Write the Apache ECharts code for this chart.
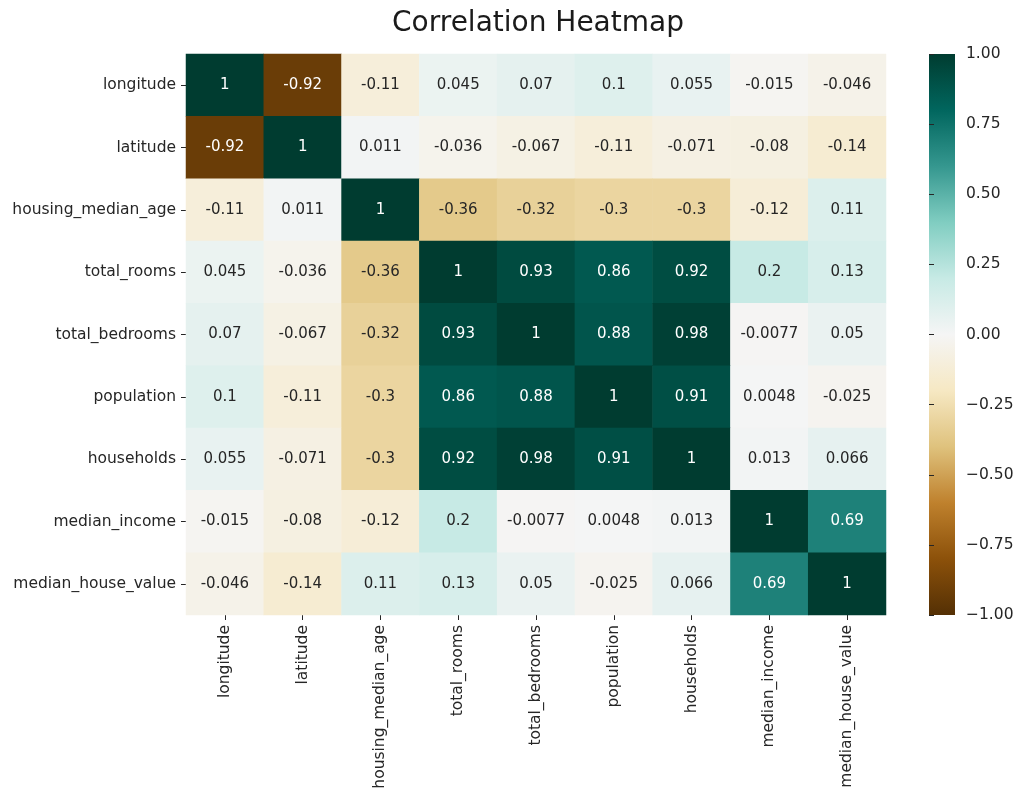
<!DOCTYPE html>
<html>
<head>
<meta charset="utf-8">
<script src="https://cdn.jsdelivr.net/npm/echarts@6/dist/echarts.min.js"></script>
<style>
  html, body { margin: 0; padding: 0; background: #ffffff; }
  #chart { width: 1018px; height: 809px; }
</style>
</head>
<body>
<div id="chart"></div>
<script>
// Feature names (rows top to bottom, columns left to right)
const features = [
  'longitude', 'latitude', 'housing_median_age', 'total_rooms',
  'total_bedrooms', 'population', 'households', 'median_income',
  'median_house_value'
];

// Pearson correlation matrix, one row per feature
const rowLongitude        = [1, -0.92, -0.11, 0.045, 0.07, 0.1, 0.055, -0.015, -0.046];
const rowLatitude         = [-0.92, 1, 0.011, -0.036, -0.067, -0.11, -0.071, -0.08, -0.14];
const rowHousingMedianAge = [-0.11, 0.011, 1, -0.36, -0.32, -0.3, -0.3, -0.12, 0.11];
const rowTotalRooms       = [0.045, -0.036, -0.36, 1, 0.93, 0.86, 0.92, 0.2, 0.13];
const rowTotalBedrooms    = [0.07, -0.067, -0.32, 0.93, 1, 0.88, 0.98, -0.0077, 0.05];
const rowPopulation       = [0.1, -0.11, -0.3, 0.86, 0.88, 1, 0.91, 0.0048, -0.025];
const rowHouseholds       = [0.055, -0.071, -0.3, 0.92, 0.98, 0.91, 1, 0.013, 0.066];
const rowMedianIncome     = [-0.015, -0.08, -0.12, 0.2, -0.0077, 0.0048, 0.013, 1, 0.69];
const rowMedianHouseValue = [-0.046, -0.14, 0.11, 0.13, 0.05, -0.025, 0.066, 0.69, 1];

const matrix = [
  rowLongitude, rowLatitude, rowHousingMedianAge, rowTotalRooms,
  rowTotalBedrooms, rowPopulation, rowHouseholds, rowMedianIncome,
  rowMedianHouseValue
];

// Colour bar range and ticks
const colorMin = -1;
const colorMax = 1;
const colorTickStep = 0.25;

// Brown-to-teal diverging palette, from -1 to +1
const brbg = [
  '#543005', '#8c510a', '#bf812d', '#dfc27d', '#f6e8c3', '#f5f5f5',
  '#c7eae5', '#80cdc1', '#35978f', '#01665e', '#003c30'
];

function hexToRgb(h) {
  return [parseInt(h.slice(1, 3), 16), parseInt(h.slice(3, 5), 16), parseInt(h.slice(5, 7), 16)];
}
function paletteAt(v) {
  const t = Math.max(0, Math.min(1, (v - colorMin) / (colorMax - colorMin))) * (brbg.length - 1);
  const i = Math.min(brbg.length - 2, Math.floor(t));
  const f = t - i;
  const a = hexToRgb(brbg[i]), b = hexToRgb(brbg[i + 1]);
  return a.map((c, k) => c + (b[k] - c) * f);
}
function luminance(rgb) {
  const lin = rgb.map(c => {
    c = c / 255;
    return c <= 0.03928 ? c / 12.92 : Math.pow((c + 0.055) / 1.055, 2.4);
  });
  return 0.2126 * lin[0] + 0.7152 * lin[1] + 0.0722 * lin[2];
}

// Heatmap cells: [columnIndex, rowIndex, value], with annotation colour picked for contrast
const cells = [];
matrix.forEach((row, r) => {
  row.forEach((v, c) => {
    const light = luminance(paletteAt(v)) > 0.408;
    cells.push({
      value: [c, r, v],
      label: { color: light ? '#262626' : '#ffffff' }
    });
  });
});

const FONT = 'DejaVu Sans';
const TEXT = '#262626';

const barGradient = new echarts.graphic.LinearGradient(0, 0, 0, 1,
  brbg.slice().reverse().map((c, i) => ({ offset: i / (brbg.length - 1), color: c })));

const chart = echarts.init(document.getElementById('chart'), null, { renderer: 'canvas' });

chart.setOption({
  animation: false,
  backgroundColor: '#ffffff',
  textStyle: { fontFamily: FONT },
  title: {
    text: 'Correlation Heatmap',
    left: 533,
    top: 5,
    textAlign: 'center',
    textStyle: { fontFamily: FONT, fontSize: 28, fontWeight: 'normal', color: '#1a1a1a' }
  },
  grid: [
    { left: 186, top: 54, width: 700, height: 561, containLabel: false },
    {
      left: 929, top: 54, width: 26, height: 561, containLabel: false,
      show: true, backgroundColor: barGradient, borderWidth: 0
    }
  ],
  xAxis: [
    {
      type: 'category', gridIndex: 0, data: features, position: 'bottom',
      axisLine: { show: false },
      axisTick: { show: true, length: 5, alignWithLabel: true, lineStyle: { color: TEXT } },
      axisLabel: { rotate: 90, margin: 10, fontFamily: FONT, fontSize: 15.5, color: TEXT, interval: 0 },
      splitLine: { show: false }
    },
    {
      type: 'value', gridIndex: 1, show: false, min: 0, max: 1
    }
  ],
  yAxis: [
    {
      type: 'category', gridIndex: 0, data: features, inverse: true,
      axisLine: { show: false },
      axisTick: { show: true, length: 5, alignWithLabel: true, lineStyle: { color: TEXT } },
      axisLabel: { margin: 10, fontFamily: FONT, fontSize: 15.5, color: TEXT, interval: 0 },
      splitLine: { show: false }
    },
    {
      type: 'value', gridIndex: 1, position: 'right',
      min: colorMin, max: colorMax, interval: colorTickStep,
      axisLine: { show: false },
      axisTick: { show: true, length: 5, lineStyle: { color: TEXT } },
      axisLabel: {
        margin: 11, fontFamily: FONT, fontSize: 15.5, color: TEXT,
        formatter: v => (v < 0 ? '\u2212' : '') + Math.abs(v).toFixed(2)
      },
      splitLine: { show: false }
    }
  ],
  visualMap: {
    show: false,
    type: 'continuous',
    seriesIndex: 0,
    dimension: 2,
    min: colorMin,
    max: colorMax,
    inRange: { color: brbg }
  },
  series: [
    {
      type: 'heatmap',
      xAxisIndex: 0,
      yAxisIndex: 0,
      data: cells,
      label: {
        show: true,
        fontFamily: FONT,
        fontSize: 15,
        formatter: p => String(p.value[2])
      },
      itemStyle: { borderWidth: 0 },
      emphasis: { disabled: true }
    }
  ]
});
</script>
</body>
</html>
